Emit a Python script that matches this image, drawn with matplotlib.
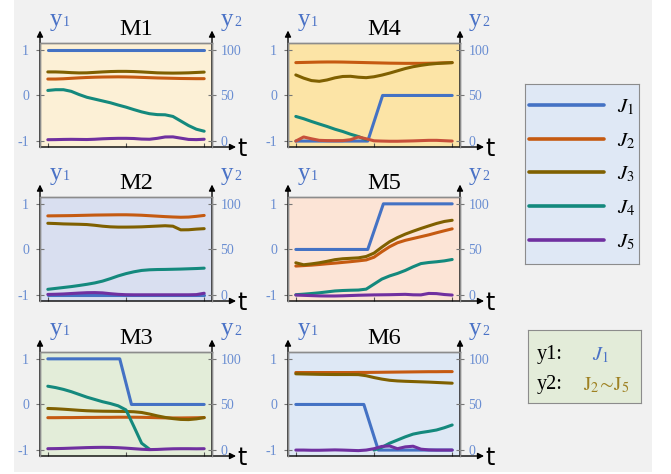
import numpy as np
import matplotlib.pyplot as plt
from matplotlib.patches import Rectangle

plt.rcParams['mathtext.fontset'] = 'stix'
SERIF = 'Liberation Serif'

# common time grid for the smooth curves
t = np.round(np.arange(0, 2.01, 0.1), 2)

# ---- M1 ----
m1_j1_t = [0, 2]
m1_j1 = [1, 1]
m1_j2 = [68, 68, 68.3, 68.8, 69.3, 69.7, 70, 70.2, 70.3, 70.4, 70.3, 70.1, 69.8, 69.5, 69.2, 69, 68.8, 68.6, 68.5, 68.4, 68.4]
m1_j3 = [75.8, 75.8, 75.5, 75, 74.7, 74.8, 75.3, 75.8, 76.2, 76.4, 76.4, 76.2, 75.8, 75.3, 74.8, 74.6, 74.5, 74.6, 74.8, 75.2, 75.6]
m1_j4 = [55.5, 56.3, 56.3, 54.5, 51, 48, 46, 44, 42, 39.5, 37.2, 34.5, 32, 30, 29, 28.8, 27, 22, 17, 13, 10.8]
m1_j5 = [1.5, 1.6, 1.8, 1.9, 1.8, 1.7, 2, 2.5, 2.8, 3, 3, 2.8, 2.2, 2, 3, 4.5, 4.6, 3.2, 1.8, 1.6, 2]

# ---- M2 ----
m2_j1_t = [0, 2]
m2_j1 = [-1, -1]
m2_j2 = [86.8, 86.9, 87, 87.1, 87.3, 87.5, 87.7, 87.8, 87.9, 88, 88, 87.8, 87.5, 87, 86.5, 86, 85.6, 85.3, 85.5, 86.3, 87.3]
m2_j3 = [78.7, 78.4, 78, 77.8, 77.6, 77.3, 76.5, 75.5, 74.8, 74.5, 74.5, 74.6, 74.8, 75.2, 75.6, 76, 75.5, 71.5, 71.6, 72.3, 72.8]
m2_j4 = [6.3, 7.3, 8.3, 9.3, 10.5, 11.8, 13.3, 15.3, 18, 21, 23.5, 25.5, 27, 27.7, 28, 28.1, 28.3, 28.5, 28.8, 29.1, 29.5]
m2_j5 = [0.7, 0.9, 1.2, 1.7, 2.2, 2.6, 2.7, 2.4, 1.5, 0.8, 0.4, 0.3, 0.3, 0.3, 0.3, 0.3, 0.3, 0.3, 0.3, 0.5, 2]

# ---- M3 ----
m3_j1_t = [0, 0.92, 1.07, 2]
m3_j1 = [1, 1, 0, 0]
m3_j2 = [35.5, 35.5, 35.6, 35.6, 35.7, 35.8, 35.8, 35.9, 35.9, 36, 36, 36, 35.9, 35.7, 35.5, 35.3, 35.2, 35.2, 35.3, 35.4, 35.6]
m3_j3 = [45.6, 45.3, 44.8, 44.2, 43.6, 43.1, 42.8, 42.6, 42.5, 42.4, 42.3, 42, 41.2, 39.5, 37.5, 35.8, 34.5, 33.6, 33.4, 34.2, 35.6]
m3_j4 = [70, 68.5, 66.5, 64, 61, 58, 55.5, 53, 51, 48.5, 44, 26, 7.5, 1, np.nan, np.nan, np.nan, np.nan, np.nan, np.nan, np.nan]
m3_j5 = [1.5, 1.6, 1.8, 2.1, 2.4, 2.7, 2.9, 3, 2.9, 2.6, 2.1, 1.5, 0.9, 0.5, 0.7, 1.1, 1.4, 1.5, 1.5, 1.4, 1.5]

# ---- M4 ----
m4_j1_t = [0, 0.92, 1.11, 2]
m4_j1 = [-1, -1, 0, 0]
m4_j2 = [86, 86.2, 86.4, 86.6, 86.7, 86.7, 86.6, 86.4, 86.2, 86, 85.8, 85.6, 85.4, 85.3, 85.2, 85.2, 85.2, 85.3, 85.5, 85.8, 86]
m4_j3 = [72.5, 69, 66.3, 65.5, 67, 69.3, 70.8, 71, 70, 69.5, 70.5, 72.3, 74.5, 77, 79.5, 81.5, 83, 84.2, 85, 85.5, 86]
m4_j4 = [27, 24.5, 21.5, 18.7, 16, 13, 10.5, 7.5, 5, 1.5, np.nan, np.nan, np.nan, np.nan, np.nan, np.nan, np.nan, np.nan, np.nan, np.nan, np.nan]
m4_j5 = [0, 4.5, 2.5, 0.8, 0.5, 0.4, 0.5, 1.5, 4.5, 2.5, 0.3, 0, -0.2, -0.2, 0, 0.2, 0.5, 0.8, 0.8, 0.4, 0]

# ---- M5 ----
m5_j1_t = [0, 0.92, 1.12, 2]
m5_j1 = [0, 0, 1, 1]
m5_j2 = [31.8, 32.3, 32.8, 33.5, 34.3, 35, 35.8, 36.6, 37.5, 38.5, 41.5, 47.5, 53, 57.3, 60, 62, 64, 66, 68.3, 70.5, 72.6]
m5_j3 = [35.4, 33.2, 34.2, 35.4, 37, 38.8, 39.8, 40.3, 40.8, 42.3, 46, 52.5, 58.5, 63, 66.8, 70, 73, 75.8, 78.5, 80.7, 82]
m5_j4 = [0.4, 1, 1.7, 2.5, 3.5, 4.5, 5, 5.3, 5.5, 6.5, 12, 17.5, 21, 23.7, 27, 31, 34.5, 35.7, 36.5, 37.5, 39]
m5_j5 = [0, -0.3, -0.6, -0.9, -1, -1, -0.8, -0.5, -0.2, 0, 0.2, 0.3, 0.4, 0.6, 0.8, 0.3, 0.2, 1.8, 1.6, 0.6, 0]

# ---- M6 ----
m6_j1_t = [0, 0.87, 1.055, 2]
m6_j1 = [0, 0, -1, -1]
m6_j2 = [85, 85, 85, 85, 85, 85, 85, 85, 85.1, 85.1, 85.2, 85.3, 85.4, 85.5, 85.6, 85.7, 85.8, 85.9, 85.9, 86, 86]
m6_j3 = [83.6, 83.4, 83.2, 83, 82.9, 82.8, 82.8, 82.8, 82.7, 81.5, 79.5, 77.8, 76.5, 75.8, 75.4, 75.1, 74.8, 74.5, 74.1, 73.7, 73.3]
m6_j4 = [np.nan] * 10 + [0, 3, 7.5, 11, 14.5, 17.5, 19.2, 20.5, 22, 24.5, 27.5]
m6_j5 = [0, 0, -0.2, -0.2, 0, 0.2, 0, -0.3, -0.6, 0, 1.5, 4, 4.5, 1.5, 3.5, 4.2, 1, 0.2, 0, 0, 0]

names = ['M1', 'M2', 'M3', 'M4', 'M5', 'M6']
labels = ['$J_1$', '$J_2$', '$J_3$', '$J_4$', '$J_5$']
colors = ['#4472c4', '#c55a11', '#7f6000', '#14897d', '#7030a0']
m4_j5_color = '#c7503a'
faces = ['#fcf0d6', '#d9dff0', '#e3edd9', '#fce4a6', '#fce4d6', '#dee8f5']

panels = [
    (m1_j1_t, m1_j1, [m1_j2, m1_j3, m1_j4, m1_j5]),
    (m2_j1_t, m2_j1, [m2_j2, m2_j3, m2_j4, m2_j5]),
    (m3_j1_t, m3_j1, [m3_j2, m3_j3, m3_j4, m3_j5]),
    (m4_j1_t, m4_j1, [m4_j2, m4_j3, m4_j4, m4_j5]),
    (m5_j1_t, m5_j1, [m5_j2, m5_j3, m5_j4, m5_j5]),
    (m6_j1_t, m6_j1, [m6_j2, m6_j3, m6_j4, m6_j5]),
]

W, H = 671, 474
fig = plt.figure(figsize=(W / 100, H / 100), dpi=100)
fig.patches.append(Rectangle((14 / W, 2 / H), 638 / W, 472 / H, transform=fig.transFigure,
                             facecolor='#f1f1f1', edgecolor='none', zorder=-10))

col_x = [40, 288]
row_y = [43, 197, 352]
bw, bh = 172, 104
tick_col = '#6a8ed2'
lab_col = '#4a72c6'

handles = []
for k, (name, (j1_t, j1, others)) in enumerate(zip(names, panels)):
    c, r = k // 3, k % 3
    x0, y0 = col_x[c], row_y[r]
    ax = fig.add_axes([x0 / W, 1 - (y0 + bh) / H, bw / W, bh / H])
    ax.set_facecolor(faces[k])
    ax2 = ax.twinx()

    h1, = ax.plot(j1_t, j1, color=colors[0], lw=2.2, solid_capstyle='round')
    hs = [h1]
    for i, y in enumerate(others):
        col = colors[i + 1]
        if name == 'M4' and i == 3:
            col = m4_j5_color
        h, = ax2.plot(t, y, color=col, lw=2.2, solid_capstyle='round')
        hs.append(h)
    if k == 0:
        handles = hs

    ax.set_xlim(-0.1, 2.1)
    ax.set_ylim(-1.13, 1.15)
    ax2.set_ylim(50 * (-1.13 + 1), 50 * (1.15 + 1))
    ax.set_xticks([0, 1, 2])
    ax.set_xticklabels([])
    ax.set_yticks([-1, 0, 1])
    ax.set_yticklabels(['-1', '0', '1'], fontfamily=SERIF, fontsize=10, color=tick_col)
    ax2.set_yticks([0, 50, 100])
    ax2.set_yticklabels(['0', '50', '100'], fontfamily=SERIF, fontsize=10, color=tick_col)
    ax.tick_params(axis='x', direction='in', length=3, color='#555555')
    ax.tick_params(axis='y', direction='inout', length=6, color='#777777', pad=5)
    ax2.tick_params(axis='y', direction='inout', length=6, color='#777777', pad=3)
    for a in (ax, ax2):
        for s in a.spines.values():
            s.set_color('#8c8c8c')
            s.set_linewidth(1.0)
        a.spines['bottom'].set_visible(False)

    # axis arrows
    arr = dict(arrowstyle='-|>', color='black', lw=1.0, mutation_scale=9, shrinkA=0, shrinkB=0)
    ax.annotate('', xy=(0, 1.12), xytext=(0, 0), xycoords='axes fraction', arrowprops=arr)
    ax.annotate('', xy=(1, 1.12), xytext=(1, 0), xycoords='axes fraction', arrowprops=arr)
    ax.annotate('', xy=(1.14, 0), xytext=(0, 0), xycoords='axes fraction', arrowprops=arr)

    ax.text(0.558, 1.075, name, transform=ax.transAxes, ha='center', va='baseline',
            fontfamily=SERIF, fontsize=17.5)
    ax.text(0.055, 1.16, 'y', transform=ax.transAxes, ha='left', va='baseline',
            fontfamily=SERIF, fontsize=18, color=lab_col)
    ax.text(0.135, 1.16, '1', transform=ax.transAxes, ha='left', va='baseline',
            fontfamily=SERIF, fontsize=10, color=lab_col)
    ax.text(1.05, 1.16, 'y', transform=ax.transAxes, ha='left', va='baseline',
            fontfamily=SERIF, fontsize=18, color=lab_col)
    ax.text(1.13, 1.16, '2', transform=ax.transAxes, ha='left', va='baseline',
            fontfamily=SERIF, fontsize=10, color=lab_col)
    ax.text(1.15, -0.02, 't', transform=ax.transAxes, ha='left', va='center',
            fontfamily='DejaVu Sans', fontsize=17)

# legend box
lax = fig.add_axes([525 / W, 1 - 264 / H, 114 / W, 180 / H])
lax.set_facecolor('#dfe8f5')
lax.set_xticks([])
lax.set_yticks([])
for s in lax.spines.values():
    s.set_color('#8c8c8c')
lax.legend(handles, labels, loc='center', frameon=False, fontsize=15,
           handlelength=3.6, labelspacing=0.62, handletextpad=0.6)
lg = lax.get_legend()
for lh, col in zip(lg.legend_handles, colors):
    lh.set_color(col)
    lh.set_linewidth(2.6)

# axis note box
nax = fig.add_axes([528 / W, 1 - 403 / H, 113 / W, 73 / H])
nax.set_facecolor('#e3ecd9')
nax.set_xticks([])
nax.set_yticks([])
for s in nax.spines.values():
    s.set_color('#8c8c8c')
nax.text(0.08, 0.66, 'y1:', transform=nax.transAxes, ha='left', va='center',
         fontfamily=SERIF, fontsize=14.5)
nax.text(0.64, 0.66, '$J_1$', transform=nax.transAxes, ha='center', va='center',
         fontsize=14.5, color='#4a72c6')
nax.text(0.08, 0.25, 'y2:', transform=nax.transAxes, ha='left', va='center',
         fontfamily=SERIF, fontsize=14.5)
nax.text(0.49, 0.25, r'$\mathrm{J}_2\!\sim\!\mathrm{J}_5$', transform=nax.transAxes,
         ha='left', va='center', fontsize=14.5, color='#9e8122')

fig.savefig('out.png', dpi=100)
